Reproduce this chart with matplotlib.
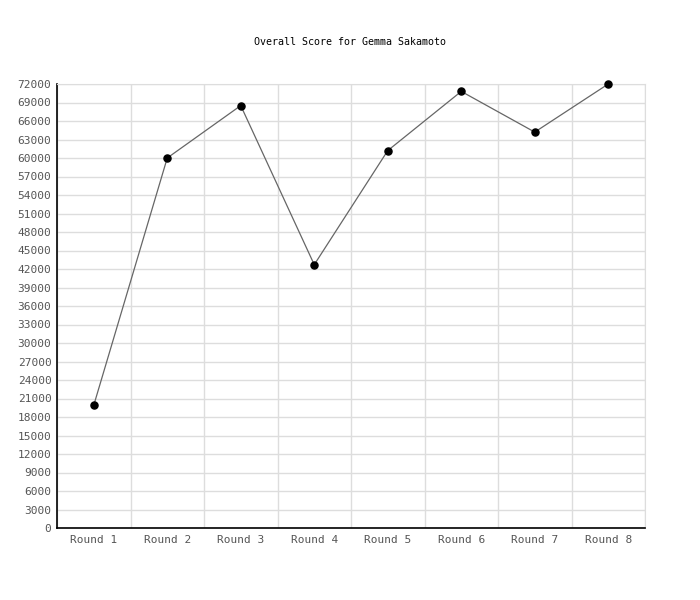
import numpy as np
import matplotlib
matplotlib.use("Agg")
import matplotlib.pyplot as plt
from matplotlib.ticker import MultipleLocator

rounds = ["Round 1", "Round 2", "Round 3", "Round 4",
          "Round 5", "Round 6", "Round 7", "Round 8"]
scores = [19900, 60000, 68500, 42700, 61200, 70800, 64200, 72000]

plt.rcParams['font.family'] = ['DejaVu Sans Mono']

fig = plt.figure(figsize=(7, 6), dpi=100)
ax = fig.add_axes([57/700, 1 - 528/600, (645-57)/700, (528-84)/600])

x = np.arange(len(rounds))
ax.plot(x, scores, color='#666666', lw=0.9, zorder=3)
ax.scatter(x, scores, s=26, color='black', zorder=4, clip_on=False)

ax.set_xlim(-0.5, len(rounds) - 0.5)
ax.set_ylim(0, 72000)
ax.yaxis.set_major_locator(MultipleLocator(3000))
ax.set_xticks(x)
ax.set_xticklabels(rounds)
ax.set_xticks(np.arange(len(rounds) + 1) - 0.5, minor=True)

ax.grid(False)
ax.grid(True, axis='y', which='major', color='#dddddd', lw=1, zorder=0)
ax.grid(True, axis='x', which='minor', color='#dddddd', lw=1, zorder=0)

for s in ['top', 'right']:
    ax.spines[s].set_color('#dddddd')
for s in ['left', 'bottom']:
    ax.spines[s].set_color('black')
    ax.spines[s].set_linewidth(1.2)

ax.tick_params(axis='both', which='both', length=0, labelsize=8, colors='#555555')
ax.tick_params(axis='y', pad=4)
ax.tick_params(axis='x', pad=5)

fig.text(350/700, 1 - 42/600, "Overall Score for Gemma Sakamoto",
         ha='center', va='center', fontsize=7.2, color='black')

fig.savefig("out.png", dpi=100)
